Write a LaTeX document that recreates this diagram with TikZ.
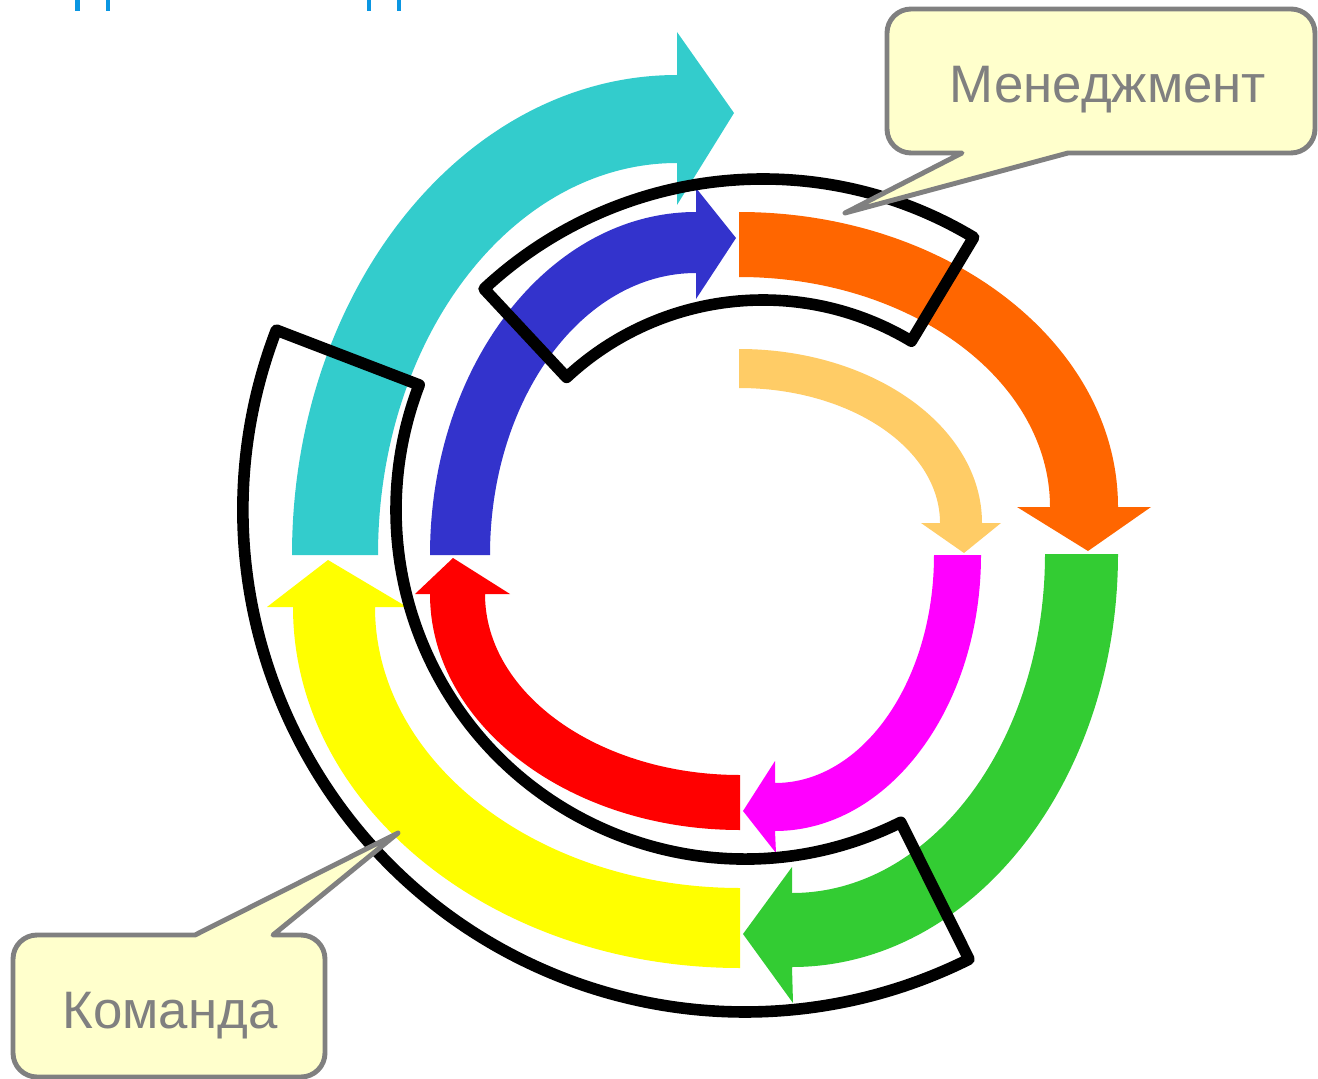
\documentclass[tikz,border=0pt]{standalone}
\usepackage{fontspec}
\newfontfamily\labelfont{Liberation Sans}
\usepackage{tikz}
\usetikzlibrary{calc}

\definecolor{cyanarr}{HTML}{33CCCC}
\definecolor{orangearr}{HTML}{FF6600}
\definecolor{greenarr}{HTML}{33CC33}
\definecolor{yellowarr}{HTML}{FFFF00}
\definecolor{bluearr}{HTML}{3333CC}
\definecolor{peacharr}{HTML}{FFCC66}
\definecolor{magentaarr}{HTML}{FF00FF}
\definecolor{redarr}{HTML}{FF0000}
\definecolor{balloonfill}{HTML}{FFFFCC}
\definecolor{titleblue}{HTML}{0A96E2}

\begin{document}
\begin{tikzpicture}[
    x=0.01cm, y=-0.01cm,
    frame/.style={draw=black, line width=3.3pt, line join=round},
    balloon/.style={draw=gray, fill=balloonfill, line width=1.4pt, line join=round},
    tag/.style={text=gray, font=\labelfont\fontsize{15pt}{18pt}\selectfont, inner sep=0pt, anchor=base}
  ]
  \useasboundingbox (0,0) rectangle (1318,1079);

  \fill[titleblue] (75,0) rectangle (80,11);
  \fill[titleblue] (106,0) rectangle (110,11);
  \fill[titleblue] (367,0) rectangle (371,11);
  \fill[titleblue] (397,0) rectangle (401,11);

  \coordinate (mc) at (763,588);
  \coordinate (tc) at (745,510);

  \fill[cyanarr] (292,555) arc[start angle=180, end angle=270, x radius=385, y radius=480]
    -- (677,32) -- (734,113) -- (677,205) -- (677,163)
    arc[start angle=270, end angle=180, x radius=299, y radius=392] -- cycle;
  \fill[orangearr] (739,212) arc[start angle=270, end angle=360, x radius=379, y radius=295]
    -- (1151,507) -- (1088,551) -- (1017,507) -- (1050,507)
    arc[start angle=0, end angle=-90, x radius=311, y radius=230] -- cycle;
  \fill[greenarr] (1118,554) arc[start angle=0, end angle=90, x radius=326, y radius=413]
    -- (793,1003) -- (743,934) -- (792,867) -- (792,893)
    arc[start angle=90, end angle=0, x radius=253, y radius=339] -- cycle;
  \fill[yellowarr] (740,968) arc[start angle=90, end angle=180, x radius=447, y radius=361]
    -- (267,607) -- (328,560) -- (407,607) -- (375,607)
    arc[start angle=180, end angle=90, x radius=365, y radius=281] -- cycle;

  \fill[bluearr] (430,555) arc[start angle=180, end angle=270, x radius=266, y radius=343]
    -- (696,188) -- (736,238) -- (696,299) -- (696,273)
    arc[start angle=270, end angle=180, x radius=206, y radius=282] -- cycle;
  \fill[peacharr] (739,349) arc[start angle=270, end angle=360, x radius=243, y radius=174]
    -- (1001,523) -- (964,553) -- (921,523) -- (940,523)
    arc[start angle=0, end angle=-90, x radius=201, y radius=135] -- cycle;
  \fill[magentaarr] (981,555) arc[start angle=0, end angle=90, x radius=206, y radius=276]
    -- (776,853) -- (743,811) -- (775,761) -- (775,783)
    arc[start angle=90, end angle=0, x radius=159, y radius=228] -- cycle;
  \fill[redarr] (740,830) arc[start angle=90, end angle=180, x radius=310, y radius=236]
    -- (415,594) -- (453,558) -- (510,594) -- (485,594)
    arc[start angle=180, end angle=90, x radius=255, y radius=181] -- cycle;

  \draw[frame] ($(mc)+(227:409)$) arc[start angle=227, end angle=301, radius=409]
    -- ($(mc)+(301:288)$) arc[start angle=301, end angle=227, radius=288] -- cycle;
  \draw[frame] ($(tc)+(201:502)$) arc[start angle=201, end angle=63.5, radius=502]
    -- ($(tc)+(63.5:349)$) arc[start angle=63.5, end angle=201, radius=349] -- cycle;

  \draw[balloon] (1100,9) [rounded corners=0.24cm] -- (1315,9) -- (1315,153)
    [sharp corners] -- (1068,153) -- (845,213) -- (962,153)
    [rounded corners=0.24cm] -- (887,153) -- (887,9) -- cycle;
  \node[tag] (mgmt) at (1108,103) {Менеджмент};

  \draw[balloon] (13,1000) [rounded corners=0.24cm] -- (13,935)
    [sharp corners] -- (195,935) -- (398,833) -- (273,935)
    [rounded corners=0.24cm] -- (325,935) -- (325,1077) -- (13,1077) -- cycle;
  \node[tag] (team) at (170,1028) {Команда};
\end{tikzpicture}
\end{document}
